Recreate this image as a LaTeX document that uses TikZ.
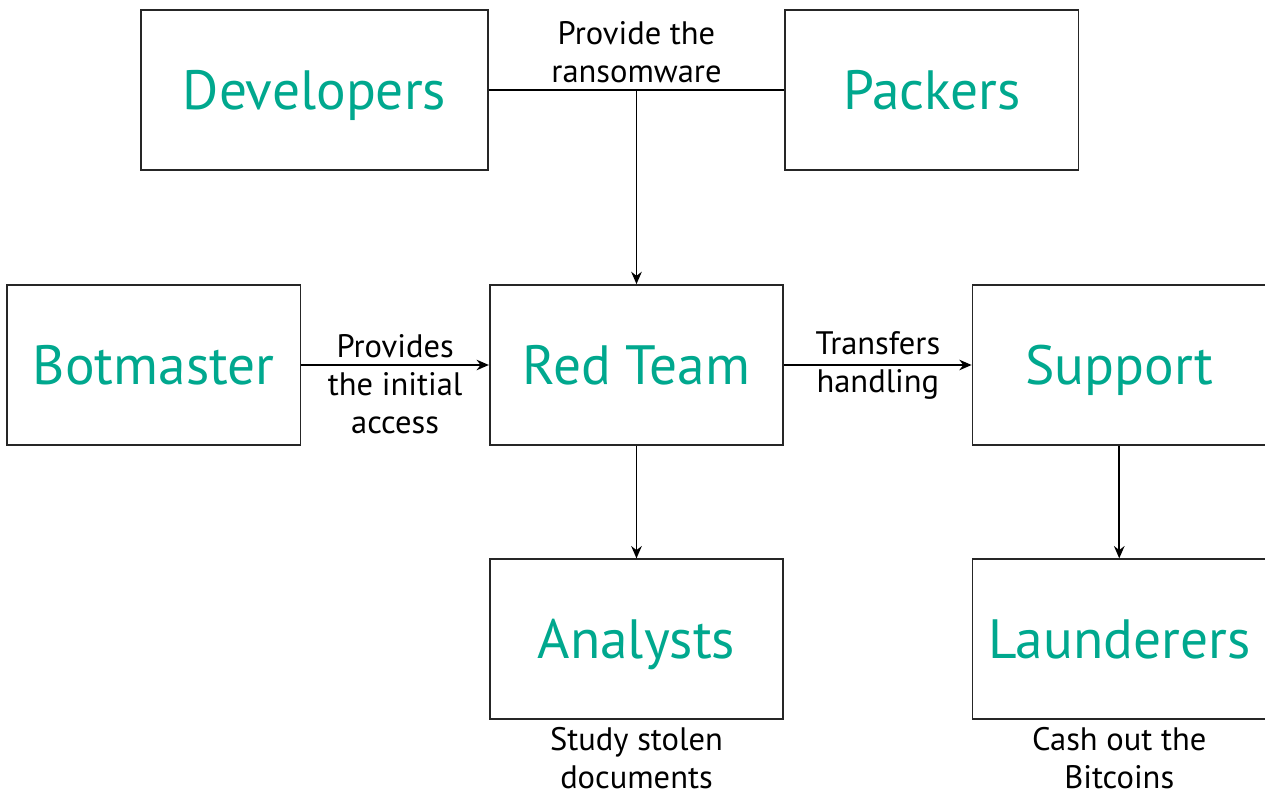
\documentclass[tikz,border=0pt]{standalone}
\usepackage{fontspec}
\setmainfont{PT Sans}
\usetikzlibrary{positioning,arrows.meta}
\definecolor{teal}{RGB}{0,168,142}
\tikzset{
  role/.style={rectangle, draw=black!85, line width=1pt, minimum width=5.87cm, minimum height=3.2cm,
    text=teal, text height=25pt, text depth=3pt, font=\fontsize{31.5}{36}\selectfont},
  say/.style={align=center, text=black, inner sep=0.5pt, font=\fontsize{18.5}{21.6}\selectfont},
}
\begin{document}
\begin{tikzpicture}[node distance=2.25cm and 3.75cm, >={Stealth[length=7pt,width=6pt]}]
    \useasboundingbox (0,0) rectangle (25.3,15.9);

    \node(red)[role] at (12.73,8.6) {Red Team};
    \node(bot)[role, left=of red] {Botmaster};
    \node(support)[role, right=of red] {Support};
    \node(analysts)[role, below=of red] {Analysts};
    \node(launder)[role, below=of support] {Launderers};

    \node(dev)[role, minimum width=6.94cm, above left=2.26cm and 0cm of red.north west] {Developers};
    \node(pack)[role, above right=2.26cm and 0cm of red.north east] {Packers};

    \node(study)[say, below=0.12cm of analysts] {Study stolen\\documents};
    \node(cash)[say, below=0.12cm of launder] {Cash out the\\Bitcoins};

    \draw[line width=1pt] (dev) -- coordinate[midway](split) node[say, above=3pt]{Provide the\\ransomware} (pack);
    \draw[->, line width=1pt] (split) -- (red);
    \draw[->, line width=1pt] (bot) -- node[say, yshift=-0.38cm]{Provides\\the initial\\access} (red);
    \draw[->, line width=1pt] (red) -- node[say]{Transfers\\handling} (support);
    \draw[->, line width=1pt] (red) -- (analysts);
    \draw[->, line width=1pt] (support) -- (launder);
  \end{tikzpicture}
\end{document}
